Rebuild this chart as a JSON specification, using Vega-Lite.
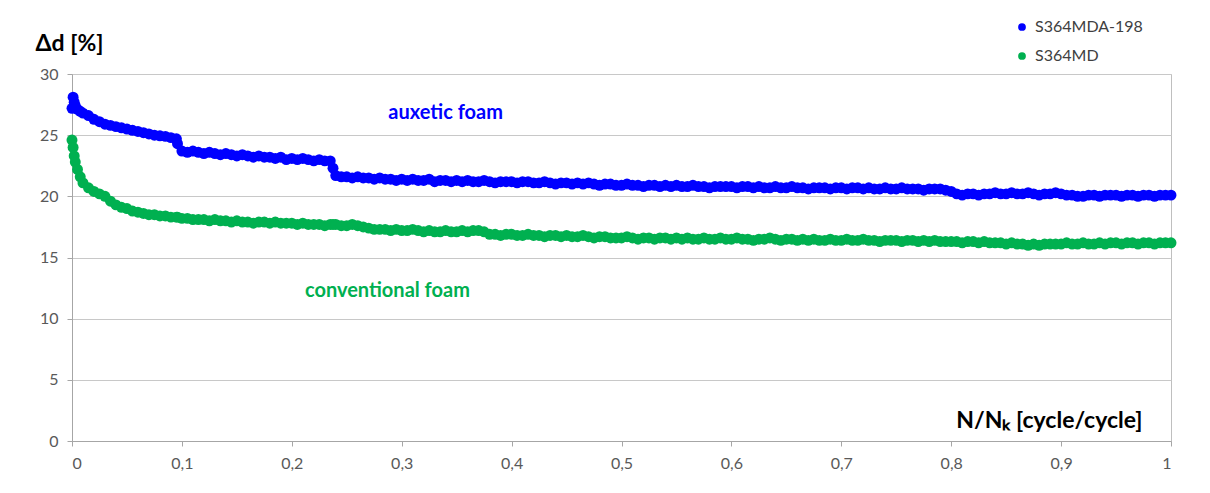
{
  "$schema": "https://vega.github.io/schema/vega-lite/v6.json",
  "width": 1099,
  "height": 367,
  "autosize": {"type": "none"},
  "padding": {"left": 72, "top": 74, "right": 39, "bottom": 52},
  "background": "white",
  "config": {
    "font": "Lato",
    "view": {"stroke": "#bfbfbf", "strokeWidth": 1},
    "axis": {"labelFont": "Lato", "labelFontSize": 16, "labelColor": "#595959", "tickColor": "#a6a6a6", "domainColor": "#a6a6a6", "tickSize": 5, "titleFont": "Lato", "titleFontSize": 23, "titleFontWeight": "bold", "titleColor": "#000000"}
  },
  "datasets": {
    "curves": [
      {"x":0,"a":27.2,"c":24.6},{"x":0.001,"a":28.1,"c":24.0},{"x":0.002,"a":27.7,"c":23.3},{"x":0.003,"a":27.4,"c":22.8},
      {"x":0.005,"a":27.1,"c":22.2},{"x":0.0075,"a":26.95,"c":21.6},{"x":0.01,"a":26.8,"c":21.1},{"x":0.015,"a":26.6,"c":20.7},
      {"x":0.02,"a":26.3,"c":20.4},{"x":0.025,"a":26.1,"c":20.2},{"x":0.03,"a":25.9,"c":20.0},{"x":0.035,"a":25.8,"c":19.6},
      {"x":0.04,"a":25.7,"c":19.3},{"x":0.045,"a":25.6,"c":19.1},{"x":0.05,"a":25.5,"c":19.0},{"x":0.055,"a":25.4,"c":18.8},
      {"x":0.06,"a":25.3,"c":18.7},{"x":0.065,"a":25.2,"c":18.6},{"x":0.07,"a":25.1,"c":18.5},{"x":0.075,"a":25.0,"c":18.5},
      {"x":0.08,"a":24.95,"c":18.4},{"x":0.085,"a":24.9,"c":18.4},{"x":0.09,"a":24.8,"c":18.3},{"x":0.095,"a":24.7,"c":18.3},
      {"x":0.096,"a":24.3,"c":18.3},
      {"x":0.1,"a":23.7,"c":18.2},{"x":0.105,"a":23.6,"c":18.2},{"x":0.11,"a":23.7,"c":18.1},{"x":0.115,"a":23.6,"c":18.1},{"x":0.12,"a":23.5,"c":18.1},
      {"x":0.125,"a":23.6,"c":18.0},{"x":0.13,"a":23.5,"c":18.1},{"x":0.135,"a":23.4,"c":18.0},{"x":0.14,"a":23.5,"c":18.0},{"x":0.145,"a":23.4,"c":17.9},
      {"x":0.15,"a":23.3,"c":18.0},{"x":0.155,"a":23.4,"c":17.9},{"x":0.16,"a":23.3,"c":17.9},{"x":0.165,"a":23.2,"c":17.8},{"x":0.17,"a":23.3,"c":17.9},
      {"x":0.175,"a":23.2,"c":17.9},{"x":0.18,"a":23.2,"c":17.8},{"x":0.185,"a":23.1,"c":17.9},{"x":0.19,"a":23.2,"c":17.8},{"x":0.195,"a":23.0,"c":17.8},
      {"x":0.2,"a":23.1,"c":17.8},{"x":0.205,"a":23.0,"c":17.7},{"x":0.21,"a":23.1,"c":17.8},{"x":0.215,"a":23.0,"c":17.7},{"x":0.22,"a":22.9,"c":17.7},
      {"x":0.225,"a":23.0,"c":17.7},{"x":0.23,"a":22.9,"c":17.6},{"x":0.235,"a":22.9,"c":17.7},{"x":0.2375,"a":22.3,"c":17.7},
      {"x":0.24,"a":21.7,"c":17.7},{"x":0.245,"a":21.6,"c":17.6},{"x":0.25,"a":21.6,"c":17.6},{"x":0.255,"a":21.5,"c":17.7},{"x":0.26,"a":21.6,"c":17.6},
      {"x":0.265,"a":21.5,"c":17.5},{"x":0.27,"a":21.5,"c":17.4},{"x":0.275,"a":21.4,"c":17.3},{"x":0.28,"a":21.5,"c":17.3},{"x":0.285,"a":21.4,"c":17.3},
      {"x":0.29,"a":21.4,"c":17.2},{"x":0.295,"a":21.3,"c":17.3},
      {"x":0.3,"a":21.4,"c":17.2},{"x":0.305,"a":21.3,"c":17.2},{"x":0.31,"a":21.4,"c":17.3},{"x":0.315,"a":21.3,"c":17.2},{"x":0.32,"a":21.3,"c":17.1},
      {"x":0.325,"a":21.4,"c":17.2},{"x":0.33,"a":21.2,"c":17.1},{"x":0.335,"a":21.3,"c":17.1},{"x":0.34,"a":21.3,"c":17.2},{"x":0.345,"a":21.2,"c":17.1},
      {"x":0.35,"a":21.3,"c":17.1},{"x":0.355,"a":21.2,"c":17.2},{"x":0.36,"a":21.3,"c":17.1},{"x":0.365,"a":21.2,"c":17.2},{"x":0.37,"a":21.2,"c":17.2},
      {"x":0.375,"a":21.3,"c":17.1},{"x":0.38,"a":21.2,"c":16.9},{"x":0.385,"a":21.1,"c":16.9},{"x":0.39,"a":21.2,"c":16.8},{"x":0.395,"a":21.2,"c":16.9},
      {"x":0.4,"a":21.2,"c":16.9},{"x":0.405,"a":21.1,"c":16.8},{"x":0.41,"a":21.2,"c":16.8},{"x":0.415,"a":21.2,"c":16.9},{"x":0.42,"a":21.1,"c":16.8},
      {"x":0.425,"a":21.1,"c":16.8},{"x":0.43,"a":21.2,"c":16.7},{"x":0.435,"a":21.1,"c":16.8},{"x":0.44,"a":21.0,"c":16.8},{"x":0.445,"a":21.1,"c":16.7},
      {"x":0.45,"a":21.1,"c":16.8},{"x":0.455,"a":21.0,"c":16.7},{"x":0.46,"a":21.1,"c":16.7},{"x":0.465,"a":21.0,"c":16.8},{"x":0.47,"a":21.1,"c":16.7},
      {"x":0.475,"a":21.0,"c":16.6},{"x":0.48,"a":20.9,"c":16.7},{"x":0.485,"a":21.0,"c":16.7},{"x":0.49,"a":21.0,"c":16.6},{"x":0.495,"a":20.9,"c":16.6},
      {"x":0.5,"a":20.9,"c":16.6},{"x":0.505,"a":21.0,"c":16.7},{"x":0.51,"a":20.9,"c":16.6},{"x":0.515,"a":20.9,"c":16.5},{"x":0.52,"a":20.8,"c":16.6},
      {"x":0.525,"a":20.9,"c":16.6},{"x":0.53,"a":20.9,"c":16.5},{"x":0.535,"a":20.8,"c":16.6},{"x":0.54,"a":20.9,"c":16.6},{"x":0.545,"a":20.8,"c":16.5},
      {"x":0.55,"a":20.9,"c":16.6},{"x":0.555,"a":20.8,"c":16.5},{"x":0.56,"a":20.8,"c":16.6},{"x":0.565,"a":20.9,"c":16.5},{"x":0.57,"a":20.8,"c":16.5},
      {"x":0.575,"a":20.8,"c":16.6},{"x":0.58,"a":20.7,"c":16.5},{"x":0.585,"a":20.8,"c":16.5},{"x":0.59,"a":20.8,"c":16.6},{"x":0.595,"a":20.8,"c":16.5},
      {"x":0.6,"a":20.8,"c":16.5},{"x":0.605,"a":20.7,"c":16.6},{"x":0.61,"a":20.8,"c":16.5},{"x":0.615,"a":20.8,"c":16.5},{"x":0.62,"a":20.7,"c":16.4},
      {"x":0.625,"a":20.8,"c":16.5},{"x":0.63,"a":20.7,"c":16.5},{"x":0.635,"a":20.7,"c":16.6},{"x":0.64,"a":20.8,"c":16.5},{"x":0.645,"a":20.7,"c":16.4},
      {"x":0.65,"a":20.7,"c":16.5},{"x":0.655,"a":20.8,"c":16.5},{"x":0.66,"a":20.7,"c":16.4},{"x":0.665,"a":20.7,"c":16.5},{"x":0.67,"a":20.6,"c":16.4},
      {"x":0.675,"a":20.7,"c":16.5},{"x":0.68,"a":20.7,"c":16.4},{"x":0.685,"a":20.7,"c":16.4},{"x":0.69,"a":20.6,"c":16.5},{"x":0.695,"a":20.7,"c":16.4},
      {"x":0.7,"a":20.7,"c":16.4},{"x":0.705,"a":20.6,"c":16.5},{"x":0.71,"a":20.7,"c":16.4},{"x":0.715,"a":20.7,"c":16.4},{"x":0.72,"a":20.6,"c":16.5},
      {"x":0.725,"a":20.7,"c":16.4},{"x":0.73,"a":20.6,"c":16.4},{"x":0.735,"a":20.6,"c":16.3},{"x":0.74,"a":20.7,"c":16.4},{"x":0.745,"a":20.6,"c":16.4},
      {"x":0.75,"a":20.6,"c":16.4},{"x":0.755,"a":20.7,"c":16.3},{"x":0.76,"a":20.6,"c":16.4},{"x":0.765,"a":20.6,"c":16.4},{"x":0.77,"a":20.6,"c":16.3},
      {"x":0.775,"a":20.5,"c":16.4},{"x":0.78,"a":20.6,"c":16.3},{"x":0.785,"a":20.6,"c":16.4},{"x":0.79,"a":20.6,"c":16.3},{"x":0.795,"a":20.5,"c":16.3},
      {"x":0.8,"a":20.4,"c":16.3},{"x":0.805,"a":20.2,"c":16.3},{"x":0.81,"a":20.1,"c":16.2},{"x":0.815,"a":20.2,"c":16.3},{"x":0.82,"a":20.2,"c":16.3},
      {"x":0.825,"a":20.1,"c":16.2},{"x":0.83,"a":20.2,"c":16.3},{"x":0.835,"a":20.2,"c":16.2},{"x":0.84,"a":20.3,"c":16.2},{"x":0.845,"a":20.2,"c":16.2},
      {"x":0.85,"a":20.2,"c":16.1},{"x":0.855,"a":20.3,"c":16.2},{"x":0.86,"a":20.2,"c":16.1},{"x":0.865,"a":20.2,"c":16.1},{"x":0.87,"a":20.3,"c":16.0},
      {"x":0.875,"a":20.2,"c":16.1},{"x":0.88,"a":20.1,"c":16.0},{"x":0.885,"a":20.2,"c":16.1},{"x":0.89,"a":20.2,"c":16.1},{"x":0.895,"a":20.3,"c":16.1},
      {"x":0.9,"a":20.2,"c":16.1},{"x":0.905,"a":20.1,"c":16.2},{"x":0.91,"a":20.1,"c":16.1},{"x":0.915,"a":20.0,"c":16.1},{"x":0.92,"a":20.0,"c":16.2},
      {"x":0.925,"a":20.1,"c":16.1},{"x":0.93,"a":20.1,"c":16.1},{"x":0.935,"a":20.0,"c":16.2},{"x":0.94,"a":20.1,"c":16.1},{"x":0.945,"a":20.1,"c":16.2},
      {"x":0.95,"a":20.1,"c":16.2},{"x":0.955,"a":20.0,"c":16.1},{"x":0.96,"a":20.1,"c":16.2},{"x":0.965,"a":20.1,"c":16.2},{"x":0.97,"a":20.0,"c":16.1},
      {"x":0.975,"a":20.1,"c":16.2},{"x":0.98,"a":20.1,"c":16.2},{"x":0.985,"a":20.0,"c":16.1},{"x":0.99,"a":20.1,"c":16.2},{"x":0.995,"a":20.1,"c":16.2},
      {"x":1.0,"a":20.1,"c":16.2}
    ],
    "notes": [
      {"x":0.34,"v":26.8,"series":"a","t":"auxetic foam"},
      {"x":0.287,"v":12.3,"series":"c","t":"conventional foam"}
    ]
  },
  "layer": [
    {
      "data": {"name": "curves"},
      "transform": [{"fold": ["a", "c"], "as": ["series", "v"]}],
      "mark": {"type": "circle", "size": 120, "opacity": 1},
      "encoding": {
        "x": {"field": "x", "type": "quantitative",
              "scale": {"domain": [0, 1], "nice": false, "zero": false},
              "axis": {"values": [0,0.1,0.2,0.3,0.4,0.5,0.6,0.7,0.8,0.9,1], "grid": false, "labelPadding": 9,
                       "labelExpr": "datum.value == 0 ? '0' : datum.value == 1 ? '1' : replace(format(datum.value, '.1f'), '.', ',')",
                       "title": "N/Nₖ [cycle/cycle]", "titleX": 1070, "titleY": -21, "titleAlign": "right", "titleBaseline": "middle"}},
        "y": {"field": "v", "type": "quantitative",
              "scale": {"domain": [0, 30], "nice": false},
              "axis": {"values": [0,5,10,15,20,25,30], "grid": true, "gridColor": "#c8c8c8", "labelPadding": 9,
                       "title": "Δd [%]", "titleAngle": 0, "titleX": -37, "titleY": -31, "titleAlign": "left", "titleBaseline": "middle"}},
        "color": {"field": "series", "type": "nominal",
                  "scale": {"domain": ["a", "c"], "range": ["#0000ff", "#00b050"]},
                  "legend": {"title": null, "orient": "none", "legendX": 942, "legendY": -55, "symbolType": "circle", "symbolSize": 60,
                             "labelExpr": "datum.value == 'a' ? 'S364MDA-198' : 'S364MD'", "labelFontSize": 16, "labelColor": "#404040",
                             "labelFont": "Lato", "rowPadding": 13, "labelOffset": 5}}
      }
    },
    {
      "data": {"name": "notes"},
      "mark": {"type": "text", "fontSize": 20, "fontWeight": "bold", "font": "Lato"},
      "encoding": {
        "x": {"field": "x", "type": "quantitative"},
        "y": {"field": "v", "type": "quantitative"},
        "text": {"field": "t"},
        "color": {"field": "series", "type": "nominal", "legend": null}
      }
    }
  ]
}
